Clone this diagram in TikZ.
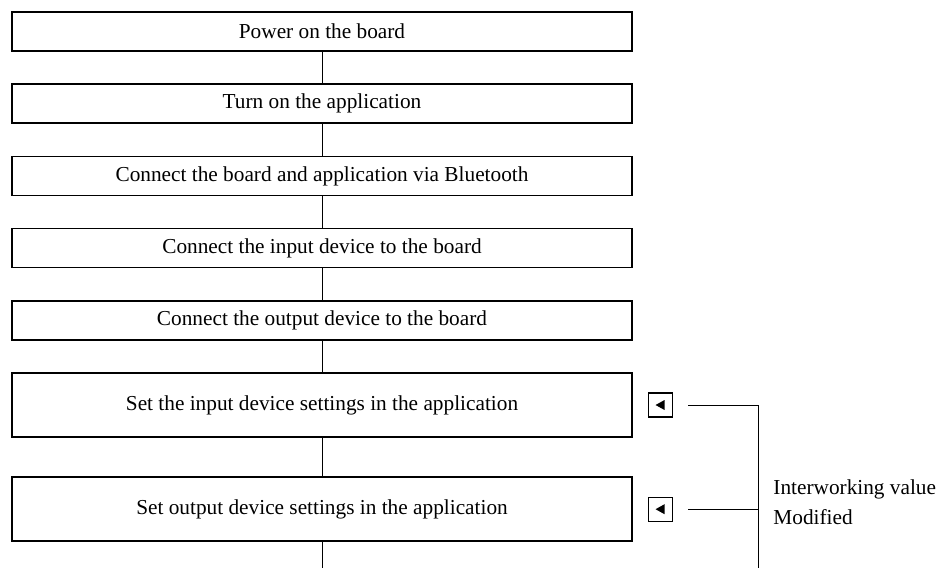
\documentclass[tikz,border=0pt]{standalone}
\usepackage{fontspec}
\setmainfont{Liberation Serif}
\usepackage{tikz}
\usetikzlibrary{arrows.meta, positioning}

\begin{document}
\begin{tikzpicture}[x=0.5pt, y=-0.5pt, node distance=15.8pt,
            txt/.style={font=\fontsize{10.65}{15}\selectfont},
            stepbox/.style={rectangle, draw, line width=0.8pt, minimum width=310pt, minimum height=19.5pt, align=center, txt},
            tallbox/.style={stepbox, minimum height=32pt},
            btn/.style={rectangle, draw, line width=0.55pt, minimum size=12pt, inner sep=0pt,
                path picture={\fill ([xshift=-2.5pt]path picture bounding box.center) -- ++(4.5pt,2.5pt) -- ++(0,-5pt) -- cycle;}},
            link/.style={line width=0.5pt}]

            \useasboundingbox (0,0) rectangle (945,568);

            % Nodes
            \node[stepbox] (S1) at (322,31.5) {Power on the board};
            \node[stepbox, below=of S1] (S2) {Turn on the application};
            \node[stepbox, below=of S2] (S3) {Connect the board and application via Bluetooth};
            \node[stepbox, below=of S3] (S4) {Connect the input device to the board};
            \node[stepbox, below=of S4] (S5) {Connect the output device to the board};
            \node[tallbox, below=of S5] (S6) {Set the input device settings in the application};
            \node[tallbox, below=19.3pt of S6] (S7) {Set output device settings in the application};

            \node[btn, right=7.6pt of S6] (K1) {};
            \node[btn, right=7.6pt of S7] (K2) {};

            \node[txt, anchor=west, align=left, inner sep=0pt] (V) at (773,502) {Interworking value\\Modified};

            \coordinate (R1) at ([xshift=7.5pt]K1.east);
            \coordinate (R2) at ([xshift=7.5pt]K2.east);
            \coordinate (J1) at (758,0 |- K1);
            \coordinate (J2) at (758,0 |- K2);
            \coordinate (Jend) at (758,568);
            \coordinate (Send) at (322,568);

            % Edges
            \draw[link] (S1) -- (S2);
            \draw[link] (S2) -- (S3);
            \draw[link] (S3) -- (S4);
            \draw[link] (S4) -- (S5);
            \draw[link] (S5) -- (S6);
            \draw[link] (S6) -- (S7);
            \draw[link] (S7) -- (Send);

            \draw[link] (R1) -- (J1) -- (Jend);
            \draw[link] (R2) -- (J2);
\end{tikzpicture}
\end{document}
